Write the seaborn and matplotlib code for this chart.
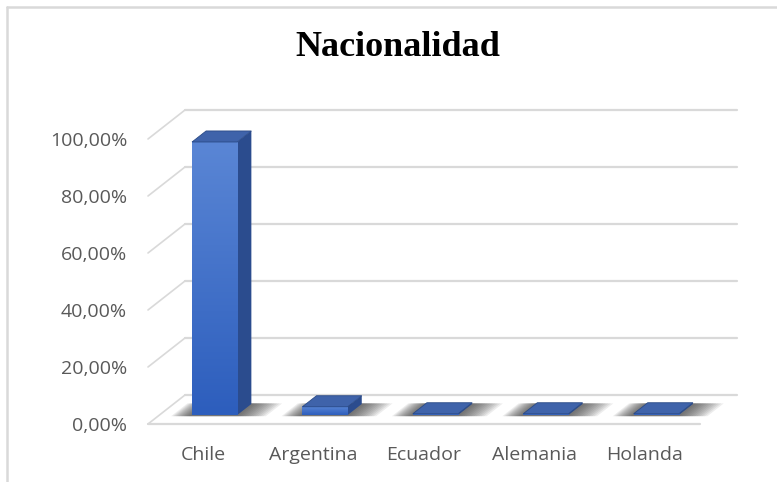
import numpy as np
import matplotlib
matplotlib.use("Agg")
import matplotlib.pyplot as plt
import seaborn as sns
from matplotlib.colors import LinearSegmentedColormap
from matplotlib.patches import Polygon
from matplotlib.lines import Line2D

# Data
paises = ["Chile", "Argentina", "Ecuador", "Alemania", "Holanda"]
porcentajes = [0.958, 0.029, 0.0044, 0.0044, 0.0044]
ticks = [0.0, 0.2, 0.4, 0.6, 0.8, 1.0]
tick_labels = ["0,00%", "20,00%", "40,00%", "60,00%", "80,00%", "100,00%"]

sns.set_style("white")
plt.rcParams["font.family"] = ["Open Sans", "DejaVu Sans"]

W, H = 777, 482
fig = plt.figure(figsize=(W / 100, H / 100), dpi=100)

# front plane of the 3D box, in pixels
x0, x1, y_base, y_top = 148, 700, 424, 139
ax = fig.add_axes([x0 / W, 1 - y_base / H, (x1 - x0) / W, (y_base - y_top) / H])

sns.barplot(x=paises, y=porcentajes, ax=ax, width=0.41, color="#3A6CC8",
            edgecolor="none", zorder=5)
ax.set_xlim(-0.5, 4.5)
ax.set_ylim(0, 1)

# depth offset (back wall vs front plane) in data units
DX = 37 / (x1 - x0) * 5
DY = 29 / (y_base - y_top)
F0, F1 = 0.31, 0.69   # bar depth range
grid_c = "#D9D9D9"

def sh(x, y, d):
    return (x + d * DX, y + d * DY)

# back wall gridlines + left wall diagonals
for t in ticks:
    ax.add_line(Line2D([-0.5 + DX, 4.5 + DX], [t + DY, t + DY], color=grid_c,
                       lw=1.6, clip_on=False, zorder=0))
    ax.add_line(Line2D([-0.5, -0.5 + DX], [t, t + DY], color=grid_c,
                       lw=1.2, clip_on=False, zorder=0))
# floor front edge
ax.add_line(Line2D([-0.5, 4.5], [0, 0], color=grid_c, lw=1.6,
                   clip_on=False, zorder=1))

grad = np.linspace(1, 0, 100).reshape(-1, 1)
front_cmap = LinearSegmentedColormap.from_list("f", ["#2D5EBD", "#5A86D5"])

for p in ax.patches[:len(paises)]:
    bx, bw, bh = p.get_x(), p.get_width(), p.get_height()
    # soft shadow on the floor
    n = 12
    for i in range(n):
        k = 0.16 * (1 - i / n)
        shadow = [sh(bx - k * 1.1, 0, F0 - 0.04), sh(bx + bw + k * 1.7, 0, F0 - 0.04),
                  sh(bx + bw + k * 1.7, 0, F1 + 0.02), sh(bx - k * 1.1, 0, F1 + 0.02)]
        ax.add_patch(Polygon(shadow, closed=True, facecolor="#3A3A3A", alpha=0.09,
                             edgecolor="none", clip_on=False, zorder=2))
    # move the front face back into the depth
    p.set_x(bx + F0 * DX)
    p.set_y(F0 * DY)
    p.set_clip_on(False)
    p.set_facecolor("none")
    fx, fy = bx + F0 * DX, F0 * DY
    im = ax.imshow(grad, extent=[fx, fx + bw, fy, fy + bh], cmap=front_cmap,
                   aspect="auto", zorder=5, clip_on=False)
    im.set_clip_path(p)
    # side face
    side = [sh(bx + bw, 0, F0), sh(bx + bw, 0, F1), sh(bx + bw, bh, F1), sh(bx + bw, bh, F0)]
    ax.add_patch(Polygon(side, closed=True, facecolor="#2B4C8E", edgecolor="none",
                         clip_on=False, zorder=4))
    # top face
    top = [sh(bx, bh, F0), sh(bx + bw, bh, F0), sh(bx + bw, bh, F1), sh(bx, bh, F1)]
    ax.add_patch(Polygon(top, closed=True, facecolor="#3F63AA", edgecolor="#2A4A86",
                         lw=0.6, clip_on=False, zorder=6))

ax.set_xlim(-0.5, 4.5)
ax.set_ylim(0, 1)
ax.set_yticks(ticks)
ax.set_yticklabels(tick_labels)
ax.tick_params(axis="both", length=0, labelsize=14, colors="#595959")
ax.tick_params(axis="y", pad=15)
ax.tick_params(axis="x", pad=16)
ax.set_xlabel("")
ax.set_ylabel("")
sns.despine(ax=ax, left=True, bottom=True)

fig.text(398 / W, 1 - 47 / H, "Nacionalidad", ha="center", va="center",
         fontsize=26, fontweight="bold", family="Liberation Serif", color="black")

# chart frame
fig.add_artist(Line2D([7 / W, 1], [1 - 7 / H, 1 - 7 / H], color=grid_c, lw=1.8,
                      transform=fig.transFigure))
fig.add_artist(Line2D([7 / W, 7 / W], [0, 1 - 7 / H], color=grid_c, lw=1.8,
                      transform=fig.transFigure))

fig.savefig("out.png", dpi=100)
